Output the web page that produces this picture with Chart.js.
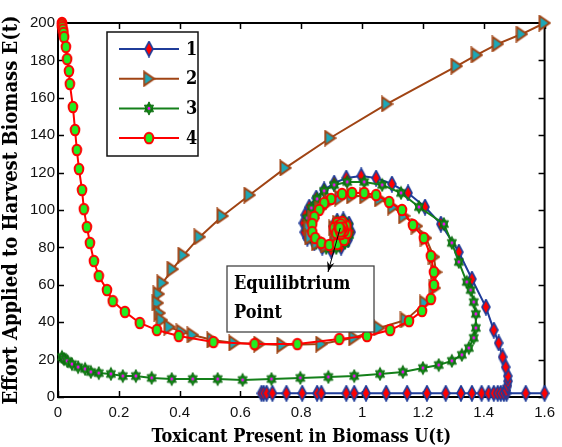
<!DOCTYPE html>
<html>
<head>
<meta charset="utf-8">
<script src="https://cdn.jsdelivr.net/npm/chart.js@4.4.0/dist/chart.umd.min.js"></script>
<style>
  html, body { margin: 0; padding: 0; background: #fff; }
  #wrap { width: 562px; height: 447px; }
</style>
</head>
<body>
<div id="wrap"><canvas id="phase" width="562" height="447"></canvas></div>
<script>
// axis ticks
var uTicks = [0, 0.2, 0.4, 0.6, 0.8, 1, 1.2, 1.4, 1.6];
var eTicks = [0, 20, 40, 60, 80, 100, 120, 140, 160, 180, 200];
var names = ["1", "2", "3", "4"];

// trajectory 1 (null = pen up)
var u1 = [0.669, 0.676, 0.686, 0.705, 0.751, 0.803, 0.852, 0.866, 0.948, 0.974, 1.013, 1.079, 1.148, 1.213, 1.275, 1.325, 1.361, 1.393, 1.416, 1.433, 1.446, 1.456, 1.466, 1.475, 1.538, 1.6,
  1.6,
  1.474, 1.478, 1.48, 1.479, 1.472, 1.462, 1.449, 1.433, 1.407, 1.361, 1.318, 1.259, 1.207, 1.151, 1.098, 1.046, 0.997, 0.948, 0.908, 0.875, 0.849, 0.826, 0.813, 0.807, 0.81, 0.82, 0.843, 0.869, 0.898, 0.931, 0.954, 0.964, 0.957, 0.938, 0.918, 0.905, 0.908, 0.925, 0.941, 0.938, 0.931];
var e1 = [2, 2, 2, 2, 2, 2, 2, 2, 2, 2, 2, 2, 2, 2, 2, 2, 2, 2, 2, 2, 2, 2, 2, 2, 2, 2,
  null,
  3.5, 6, 8.5, 11.2, 16, 21.4, 28.9, 35.8, 48.1, 63.1, 77.5, 92.5, 101.6, 109.1, 113.9, 117.1, 118.2, 117.1, 114.4, 110.7, 106.4, 101.6, 97.3, 93, 88.2, 85, 82.4, 80.2, 78.6, 80.2, 84, 88.2, 92.5, 94.7, 94.1, 91.4, 88.2, 86.6, 88.2, 90.4, 90.4];

// trajectory 2
var u2 = [1.6, 1.525, 1.446, 1.377, 1.311, 1.082, 0.895, 0.748, 0.63, 0.541, 0.466, 0.413, 0.377, 0.344, 0.331, 0.328, 0.334, 0.341, 0.367, 0.407, 0.443, 0.508, 0.58, 0.662, 0.738, 0.866, 0.974, 1.056, 1.144, 1.207, 1.239, 1.243, 1.236, 1.21, 1.18, 1.138, 1.102, 1.059, 1.01, 0.967, 0.928, 0.892, 0.862, 0.839, 0.826, 0.83, 0.852, 0.882, 0.911, 0.934, 0.944, 0.938, 0.921, 0.908, 0.915, 0.931, 0.934];
var e2 = [200, 194.1, 188.8, 182.9, 177, 156.7, 138.5, 122.5, 108, 96.8, 85.6, 75.9, 68.4, 61, 55.1, 50.3, 44.9, 41.2, 37.4, 34.8, 33.2, 30.5, 28.9, 28.3, 27.8, 28.3, 31.6, 36.9, 41.2, 50.3, 58.3, 66.8, 74.9, 85, 91.4, 96.8, 101.6, 105.9, 107.5, 107.5, 106.4, 104.3, 100.5, 95.7, 90.4, 85.6, 82.4, 81.3, 82.4, 85, 88.2, 92, 93, 90.4, 87.2, 88.2, 90.4];

// trajectory 3
var u3 = [0.013, 0.02, 0.03, 0.046, 0.066, 0.089, 0.108, 0.134, 0.174, 0.213, 0.256, 0.308, 0.374, 0.443, 0.525, 0.607, 0.702, 0.797, 0.889, 0.974, 1.059, 1.134, 1.2, 1.252, 1.295, 1.328, 1.351, 1.367, 1.374, 1.374, 1.367, 1.357, 1.344, 1.318, 1.295, 1.269, 1.187, 1.128, 1.066, 1.007, 0.951, 0.908, 0.875, 0.852, 0.833, 0.82, 0.82, 0.83, 0.849, 0.882, 0.915, 0.944, 0.957, 0.954, 0.938, 0.918, 0.908, 0.918, 0.938, 0.934];
var e3 = [21.4, 20.3, 19.3, 17.6, 16, 15, 13.4, 12.8, 12.3, 11.2, 11.2, 10.2, 9.6, 9.6, 9.6, 9.1, 9.6, 10.2, 10.7, 11.2, 12.3, 13.4, 15.5, 17.1, 19.3, 22.5, 26.2, 31.6, 36.9, 44.4, 50.8, 57.2, 61.5, 72.2, 82.4, 92.5, 101.6, 109.1, 113.4, 115, 115, 113.4, 110.2, 105.9, 101.1, 95.7, 90.4, 85.6, 82.4, 79.7, 79.7, 82.4, 86.6, 91.4, 94.1, 93.6, 90.4, 87.2, 87.7, 89.8];

// trajectory 4
var u4 = [0.013, 0.013, 0.014, 0.016, 0.018, 0.02, 0.026, 0.03, 0.036, 0.039, 0.049, 0.056, 0.062, 0.069, 0.079, 0.085, 0.095, 0.105, 0.118, 0.134, 0.161, 0.18, 0.22, 0.269, 0.325, 0.397, 0.511, 0.646, 0.787, 0.925, 1.016, 1.092, 1.154, 1.197, 1.226, 1.236, 1.236, 1.226, 1.203, 1.167, 1.131, 1.089, 1.046, 1.007, 0.967, 0.934, 0.898, 0.875, 0.859, 0.843, 0.836, 0.836, 0.846, 0.866, 0.892, 0.918, 0.941, 0.951, 0.948, 0.934, 0.918, 0.908, 0.915, 0.931, 0.941, 0.934, 0.925, 0.922, 0.93, 0.937, 0.933, 0.928, 0.929, 0.926];
var e4 = [200, 199, 197.8, 196.4, 194.7, 192.5, 187.2, 180.7, 174.3, 167.4, 155.1, 142.8, 132.1, 121.9, 110.7, 100.5, 90.9, 82.4, 72.7, 64.7, 57.2, 51.3, 45.5, 39.6, 35.8, 32.6, 29.4, 28.3, 28.3, 31, 32.6, 35.8, 40.6, 46, 52.4, 59.9, 66.8, 75.4, 85, 92, 100, 104.3, 108, 109.1, 109.1, 108.6, 105.9, 103.7, 100, 96.3, 92.5, 88.2, 85, 82.4, 81.3, 81.8, 84, 87.7, 91.4, 93.6, 93, 90.4, 87.7, 87.2, 88.8, 90.4, 89.8, 91.5, 92.3, 90.6, 89, 90, 88.5, 90.5];

// equilibrium point the arrow starts from
var eqU = 0.928, eqE = 90.4;

var heavy = "'DejaVu Serif Condensed', 'DejaVu Serif', serif";

function pts(us, es) {
  return us.map(function (u, i) { return { x: u, y: es[i] }; });
}

// marker images (matlab-ish markers, a bit taller than wide)
function marker(w, h, draw) {
  var c = document.createElement("canvas");
  c.width = w; c.height = h;
  draw(c.getContext("2d"));
  return c;
}
var diamond = marker(10, 17, function (g) {
  g.beginPath();
  g.moveTo(5, 1); g.lineTo(9, 8.5); g.lineTo(5, 16); g.lineTo(1, 8.5); g.closePath();
  g.fillStyle = "#ff0000"; g.fill();
  g.lineWidth = 1.6; g.strokeStyle = "#1f3c99"; g.stroke();
});
var tri = marker(13, 17, function (g) {
  g.beginPath();
  g.moveTo(1.5, 1.5); g.lineTo(11.5, 8.5); g.lineTo(1.5, 15.5); g.closePath();
  g.fillStyle = "#1ba8b8"; g.fill();
  g.lineWidth = 2; g.strokeStyle = "#a04414"; g.stroke();
});
var star = marker(12, 15, function (g) {
  var cx = 6, cy = 7.5, rx = 5.2, ry = 6.6;
  for (var k = 0; k < 2; k++) {
    g.beginPath();
    for (var j = 0; j < 3; j++) {
      var a = -Math.PI / 2 + k * Math.PI + j * 2 * Math.PI / 3;
      var px = cx + rx * Math.cos(a), py = cy + ry * Math.sin(a);
      if (j === 0) g.moveTo(px, py); else g.lineTo(px, py);
    }
    g.closePath();
    g.fillStyle = "#138a17"; g.fill();
    g.lineWidth = 1; g.strokeStyle = "#0b6a0e"; g.stroke();
  }
  g.beginPath(); g.arc(cx, cy, 1.4, 0, Math.PI * 2);
  g.fillStyle = "#ff00ff"; g.fill();
});
var dot = marker(12, 14, function (g) {
  g.beginPath();
  g.ellipse(6, 7, 4.3, 5.3, 0, 0, Math.PI * 2);
  g.fillStyle = "#22ee22"; g.fill();
  g.lineWidth = 2; g.strokeStyle = "#ff0000"; g.stroke();
});

var lineColors = ["#1f3c99", "#a04414", "#14801a", "#ff0000"];
var markers = [diamond, tri, star, dot];

var ctx = document.getElementById("phase");

// box, inward ticks, legend and the equilibrium note
var extras = {
  id: "extras",
  beforeDatasetsDraw: function (chart) {
    var c = chart.ctx, a = chart.chartArea;
    var xs = chart.scales.x, ys = chart.scales.y;
    c.save();
    c.strokeStyle = "#000";
    c.lineWidth = 1.5;
    uTicks.forEach(function (v) {
      var p = Math.round(xs.getPixelForValue(v)) + 0.5;
      c.beginPath();
      c.moveTo(p, a.bottom); c.lineTo(p, a.bottom - 6);
      c.moveTo(p, a.top); c.lineTo(p, a.top + 6);
      c.stroke();
    });
    eTicks.forEach(function (v) {
      var p = Math.round(ys.getPixelForValue(v)) + 0.5;
      c.beginPath();
      c.moveTo(a.left, p); c.lineTo(a.left + 6, p);
      c.moveTo(a.right, p); c.lineTo(a.right - 6, p);
      c.stroke();
    });
    c.lineWidth = 2;
    c.strokeRect(a.left, a.top, a.right - a.left, a.bottom - a.top);
    c.restore();
  },
  afterDatasetsDraw: function (chart) {
    var c = chart.ctx, a = chart.chartArea;
    var xs = chart.scales.x, ys = chart.scales.y;
    c.save();

    // legend
    var lx = a.left + 49, ly = a.top + 9;
    c.fillStyle = "#fff";
    c.fillRect(lx, ly, 91, 124);
    c.strokeStyle = "#111";
    c.lineWidth = 1.5;
    c.strokeRect(lx, ly, 91, 124);
    c.font = "bold 18px " + heavy;
    c.textBaseline = "middle";
    c.textAlign = "left";
    names.forEach(function (n, i) {
      var y = ly + 17 + i * 29.7;
      c.strokeStyle = lineColors[i];
      c.lineWidth = 2;
      c.beginPath();
      c.moveTo(lx + 12, y); c.lineTo(lx + 72, y);
      c.stroke();
      var m = markers[i];
      c.drawImage(m, lx + 42 - m.width / 2, y - m.height / 2);
      c.fillStyle = "#000";
      c.fillText(n, lx + 79, y + 1);
    });

    // equilibrium note
    var bx = 227, by = 266, bw = 147, bh = 66;
    c.fillStyle = "#fff";
    c.fillRect(bx, by, bw, bh);
    c.strokeStyle = "#444";
    c.lineWidth = 1.3;
    c.strokeRect(bx, by, bw, bh);
    c.fillStyle = "#000";
    c.font = "bold 18px " + heavy;
    c.textBaseline = "alphabetic";
    c.fillText("Equilibtrium", bx + 7, by + 23);
    c.fillText("Point", bx + 7, by + 52);

    // arrow from the equilibrium to the box
    var x0 = xs.getPixelForValue(eqU), y0 = ys.getPixelForValue(eqE);
    var x1 = 328, y1 = by + 6;
    var ang = Math.atan2(y1 - y0, x1 - x0);
    c.strokeStyle = "#000";
    c.lineWidth = 1;
    c.beginPath();
    c.moveTo(x0, y0); c.lineTo(x1, y1);
    c.stroke();
    c.beginPath();
    c.moveTo(x1, y1);
    c.lineTo(x1 - 11 * Math.cos(ang - 0.35), y1 - 11 * Math.sin(ang - 0.35));
    c.lineTo(x1 - 7 * Math.cos(ang), y1 - 7 * Math.sin(ang));
    c.lineTo(x1 - 11 * Math.cos(ang + 0.35), y1 - 11 * Math.sin(ang + 0.35));
    c.closePath();
    c.fillStyle = "#000";
    c.fill();
    c.restore();
  }
};

function series(i, us, es, order) {
  return {
    label: names[i],
    data: pts(us, es),
    showLine: true,
    borderColor: lineColors[i],
    borderWidth: 2,
    backgroundColor: lineColors[i],
    pointStyle: markers[i],
    pointRadius: 5,
    pointHoverRadius: 5,
    spanGaps: false,
    clip: false,
    order: order
  };
}

var chart = new Chart(ctx, {
  type: "scatter",
  data: {
    datasets: [
      series(0, u1, e1, 4),
      series(1, u2, e2, 2),
      series(2, u3, e3, 3),
      series(3, u4, e4, 1)
    ]
  },
  options: {
    responsive: false,
    animation: false,
    devicePixelRatio: 1,
    layout: { padding: { top: 23, right: 16, left: 0, bottom: 0 } },
    plugins: {
      legend: { display: false },
      tooltip: { enabled: false }
    },
    scales: {
      x: {
        type: "linear",
        min: 0,
        max: 1.6,
        afterBuildTicks: function (s) { s.ticks = uTicks.map(function (v) { return { value: v }; }); },
        afterFit: function (s) { s.height = 50; },
        ticks: {
          callback: function (v) { return String(v); },
          font: { family: "'Liberation Sans', Arial, sans-serif", size: 15 },
          color: "#111",
          padding: 7,
          maxRotation: 0
        },
        grid: { display: false, drawTicks: false },
        border: { display: false },
        title: {
          display: true,
          text: "Toxicant Present in Biomass U(t)",
          font: { family: heavy, size: 18, weight: "bold", lineHeight: 1 },
          color: "#000",
          padding: { top: 0, bottom: 1 }
        }
      },
      y: {
        type: "linear",
        min: 0,
        max: 200,
        afterBuildTicks: function (s) { s.ticks = eTicks.map(function (v) { return { value: v }; }); },
        afterFit: function (s) { s.width = 58; },
        ticks: {
          font: { family: "'Liberation Sans', Arial, sans-serif", size: 15 },
          color: "#111",
          padding: 3
        },
        grid: { display: false, drawTicks: false },
        border: { display: false },
        title: {
          display: true,
          text: "Effort Applied to Harvest Biomass E(t)",
          font: { family: heavy, size: 20, weight: "bold", lineHeight: 1 },
          color: "#000",
          padding: { top: 2, bottom: 0 }
        }
      }
    }
  },
  plugins: [extras]
});
</script>
</body>
</html>
